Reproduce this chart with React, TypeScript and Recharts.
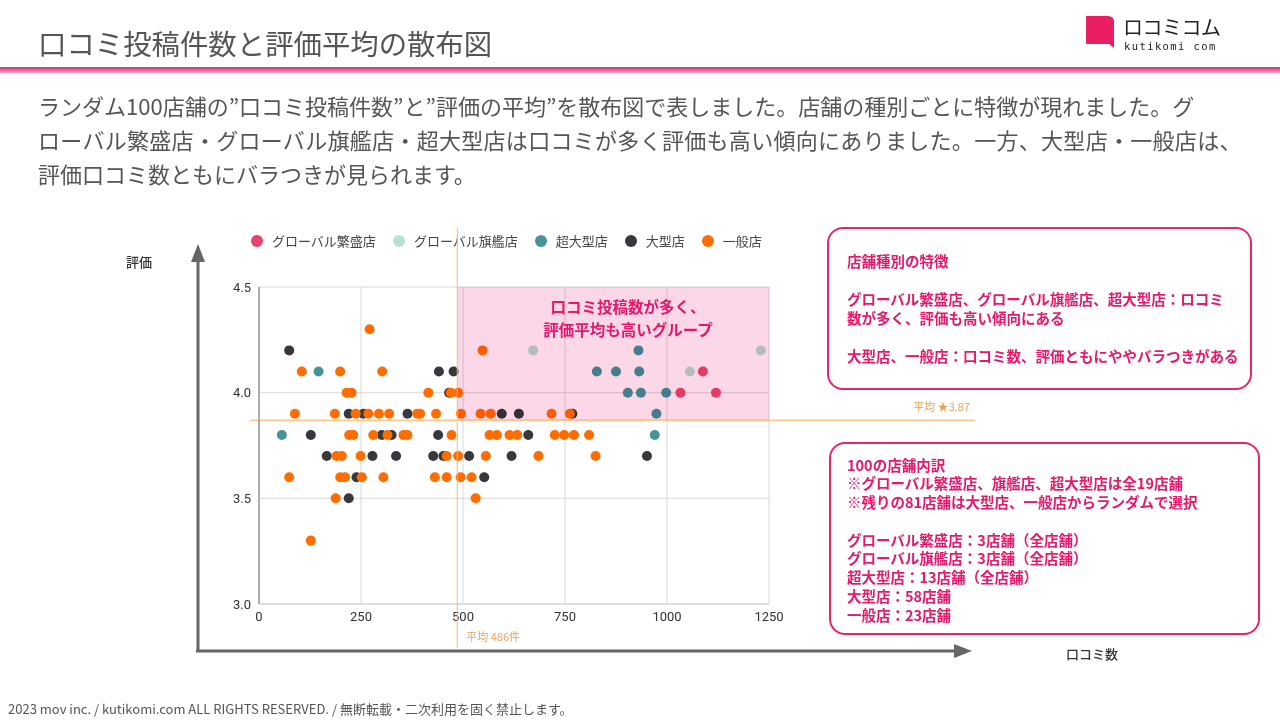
import { CartesianGrid, ReferenceArea, ReferenceLine, Scatter, ScatterChart, XAxis, YAxis } from "recharts";

// [口コミ数, 評価]
const globalHanjo: [number, number][] = [
  [1088, 4.1], [1033, 4.0], [1120, 4.0],
];
const globalKikan: [number, number][] = [
  [672, 4.2], [1230, 4.2], [1056, 4.1],
];
const chouOgata: [number, number][] = [
  [930, 4.2], [146, 4.1], [828, 4.1], [875, 4.1], [932, 4.1],
  [904, 4.0], [936, 4.0], [998, 4.0], [974, 3.9], [56, 3.8], [970, 3.8],
];
const ogata: [number, number][] = [
  [74, 4.2], [441, 4.1], [477, 4.1], [466, 4.0],
  [220, 3.9], [256, 3.9], [364, 3.9], [595, 3.9], [637, 3.9], [768, 3.9],
  [127, 3.8], [301, 3.8], [325, 3.8], [439, 3.8], [660, 3.8],
  [166, 3.7], [278, 3.7], [336, 3.7], [427, 3.7], [452, 3.7], [515, 3.7], [619, 3.7], [951, 3.7],
  [239, 3.6], [552, 3.6], [220, 3.5],
];
const ippan: [number, number][] = [
  [271, 4.3], [548, 4.2], [105, 4.1], [199, 4.1], [302, 4.1],
  [215, 4.0], [227, 4.0], [415, 4.0], [470, 4.0], [488, 4.0],
  [88, 3.9], [186, 3.9], [237, 3.9], [268, 3.9], [294, 3.9], [319, 3.9], [388, 3.9],
  [395, 3.9], [434, 3.9], [495, 3.9], [543, 3.9], [568, 3.9], [717, 3.9], [762, 3.9],
  [221, 3.8], [231, 3.8], [280, 3.8], [315, 3.8], [354, 3.8], [364, 3.8], [472, 3.8],
  [565, 3.8], [583, 3.8], [614, 3.8], [633, 3.8], [725, 3.8], [748, 3.8], [772, 3.8], [809, 3.8],
  [190, 3.7], [203, 3.7], [249, 3.7], [460, 3.7], [488, 3.7], [556, 3.7], [685, 3.7], [825, 3.7],
  [74, 3.6], [199, 3.6], [211, 3.6], [252, 3.6], [305, 3.6], [431, 3.6], [460, 3.6], [494, 3.6], [521, 3.6],
  [188, 3.5], [531, 3.5], [127, 3.3],
];

const xTicks = [0, 250, 500, 750, 1000, 1250];
const yTicks = [3.0, 3.5, 4.0, 4.5];
const meanCount = 486;
const meanRating = 3.87;

const series = [
  { name: "グローバル繁盛店", color: "#e8436c", points: globalHanjo },
  { name: "グローバル旗艦店", color: "#b7e2cf", points: globalKikan },
  { name: "超大型店", color: "#48939a", points: chouOgata },
  { name: "大型店", color: "#36383c", points: ogata },
  { name: "一般店", color: "#ff6d01", points: ippan },
];

const PINK = "#e5196c";
const FONT = "'Noto Sans CJK JP', 'Noto Sans', sans-serif";
const CHART_W = 800;
const CHART_H = 450;

const dot = (color: string) => (p: any) => <circle cx={p.cx} cy={p.cy} r={5} fill={color} />;
const noDot = () => <g />;
const allPoints = series.flatMap((s) => s.points.map(([x, y]) => ({ x, y })));

function HLine(p: any) {
  const { x1, y1, x2 } = p;
  return (
    <g>
      <line x1={x1 - 9} y1={y1} x2={x2 + 206} y2={y1} stroke="#fcc98c" strokeWidth={1.5} />
      <text x={x2 + 201} y={y1 - 9} textAnchor="end" fontSize={11} fill="#eba456" fontFamily={FONT}>
        平均 ★{meanRating}
      </text>
    </g>
  );
}

function VLine(p: any) {
  const { x1, y1, y2 } = p;
  const top = Math.min(y1, y2);
  const bottom = Math.max(y1, y2);
  return (
    <g>
      <line x1={x1} y1={top - 59} x2={x1} y2={bottom + 44} stroke="#f8b872" strokeWidth={1} />
      <text x={x1 + 9} y={bottom + 37} fontSize={11} fill="#eba456" fontFamily={FONT}>
        平均 {meanCount}件
      </text>
    </g>
  );
}

function PinkArea(p: any) {
  return <rect x={p.x} y={p.y} width={p.width} height={p.height} fill="#fbd7e8" />;
}

const tickStyle = { fill: "#333", fontSize: 13, fontFamily: "Roboto, sans-serif" };

// an overlay chart sharing the main chart's scales, for layers drawn above the points
function Overlay({ children, blend }: { children: any; blend?: boolean }) {
  return (
    <div
      style={{
        position: "absolute",
        left: 190,
        top: 220,
        width: CHART_W,
        height: CHART_H,
        mixBlendMode: blend ? "multiply" : "normal",
        pointerEvents: "none",
      }}
    >
      <ScatterChart width={CHART_W} height={CHART_H} margin={{ top: 67, right: 221, bottom: 36, left: 0 }}>
        <XAxis type="number" dataKey="x" domain={[0, 1250]} ticks={xTicks} height={30} tick={false} axisLine={false} tickLine={false} />
        <YAxis type="number" dataKey="y" domain={[3, 4.5]} ticks={yTicks} width={69} tick={false} axisLine={false} tickLine={false} />
        <Scatter data={allPoints} shape={noDot} isAnimationActive={false} />
        {children}
      </ScatterChart>
    </div>
  );
}

export default function App() {
  return (
    <div
      style={{
        position: "absolute",
        left: 0,
        top: 0,
        width: 1280,
        height: 720,
        background: "#fff",
        fontFamily: FONT,
        overflow: "hidden",
      }}
    >
      {/* header */}
      <div style={{ position: "absolute", left: 38, top: 23, fontSize: 28.4, lineHeight: "40px", color: "#555" }}>
        口コミ投稿件数と評価平均の散布図
      </div>
      <div
        style={{
          position: "absolute",
          left: 0,
          top: 67,
          width: 1280,
          height: 6,
          background: "linear-gradient(to bottom, #e3236b, #f7a9c6)",
        }}
      />
      <svg style={{ position: "absolute", left: 1084, top: 14 }} width={32} height={36}>
        <path d="M3 2 H24 Q30 2 30 8 V34 L25 30 H3 Q2 30 2 29 V3 Q2 2 3 2 Z" fill="#e91e63" />
      </svg>
      <div
        style={{
          position: "absolute",
          left: 1123,
          top: 14,
          fontSize: 20,
          lineHeight: "26px",
          color: "#222",
          letterSpacing: -0.5,
        }}
      >
        ロコミコム
      </div>
      <div
        style={{
          position: "absolute",
          left: 1124,
          top: 40,
          fontSize: 10.5,
          lineHeight: "13px",
          color: "#222",
          letterSpacing: 1.4,
          fontFamily: "'DejaVu Sans Mono', monospace",
        }}
      >
        kutikomi com
      </div>

      {/* description */}
      <div
        style={{
          position: "absolute",
          left: 38,
          top: 88,
          fontSize: 22,
          lineHeight: "34px",
          color: "#555",
          whiteSpace: "nowrap",
        }}
      >
        ランダム100店舗の”口コミ投稿件数”と”評価の平均”を散布図で表しました。店舗の種別ごとに特徴が現れました。グ
        <br />
        <span style={{ letterSpacing: 0.3 }}>
          ローバル繁盛店・グローバル旗艦店・超大型店は口コミが多く評価も高い傾向にありました。一方、大型店・一般店は、
        </span>
        <br />
        評価口コミ数ともにバラつきが見られます。
      </div>

      {/* legend */}
      <div style={{ position: "absolute", left: 251, top: 232, display: "flex", fontSize: 13, color: "#444" }}>
        {series.map((s) => (
          <div key={s.name} style={{ display: "flex", alignItems: "center", marginRight: 17, lineHeight: "18px" }}>
            <span
              style={{ width: 12, height: 12, borderRadius: 6, background: s.color, marginRight: 9, display: "inline-block" }}
            />
            {s.name}
          </div>
        ))}
      </div>

      {/* big axis arrows */}
      <svg style={{ position: "absolute", left: 0, top: 0 }} width={1280} height={720}>
        <line x1={198} y1={652} x2={198} y2={258} stroke="#666" strokeWidth={3} />
        <polygon points="198,244 191,262 205,262" fill="#666" />
        <line x1={196} y1={651} x2={957} y2={651} stroke="#666" strokeWidth={3} />
        <polygon points="972,651 954,644 954,658" fill="#666" />
      </svg>
      <div style={{ position: "absolute", left: 126, top: 252, fontSize: 13, color: "#333", fontWeight: 500 }}>評価</div>
      <div style={{ position: "absolute", left: 1066, top: 644, fontSize: 13, color: "#333", fontWeight: 500 }}>
        口コミ数
      </div>

      {/* chart */}
      <div style={{ position: "absolute", left: 190, top: 220, width: CHART_W, height: CHART_H }}>
        <ScatterChart width={CHART_W} height={CHART_H} margin={{ top: 67, right: 221, bottom: 36, left: 0 }}>
          <CartesianGrid stroke="#d9d9d9" />
          <XAxis
            type="number"
            dataKey="x"
            domain={[0, 1250]}
            ticks={xTicks}
            height={30}
            tickLine={false}
            axisLine={{ stroke: "#d0d0d0" }}
            tick={tickStyle}
          />
          <YAxis
            type="number"
            dataKey="y"
            domain={[3, 4.5]}
            ticks={yTicks}
            width={69}
            tickLine={false}
            axisLine={{ stroke: "#999", strokeWidth: 1.5 }}
            tickFormatter={(v: number) => v.toFixed(1)}
            tick={tickStyle}
          />
          {series.map((s) => (
            <Scatter
              key={s.name}
              name={s.name}
              data={s.points.map(([x, y]) => ({ x, y }))}
              fill={s.color}
              shape={dot(s.color)}
              isAnimationActive={false}
            />
          ))}
          <ReferenceLine y={meanRating} shape={HLine} />
        </ScatterChart>
      </div>

      {/* pink highlight, multiplied over the points */}
      <Overlay blend>
        <ReferenceArea x1={meanCount} x2={1250} y1={meanRating} y2={4.5} shape={PinkArea} />
      </Overlay>

      {/* mean count line */}
      <Overlay>
        <ReferenceLine x={meanCount} shape={VLine} />
      </Overlay>

      {/* annotation in pink area */}
      <div
        style={{
          position: "absolute",
          left: 478,
          top: 295,
          width: 300,
          textAlign: "center",
          fontSize: 15.5,
          lineHeight: "23px",
          fontWeight: 700,
          color: PINK,
        }}
      >
        口コミ投稿数が多く、
        <br />
        評価平均も高いグループ
      </div>

      {/* info boxes */}
      <div
        style={{
          position: "absolute",
          left: 827,
          top: 227,
          width: 421,
          height: 159,
          border: "2px solid #e8246a",
          borderRadius: 16,
        }}
      />
      <div
        style={{
          position: "absolute",
          left: 847,
          top: 251,
          fontSize: 14.5,
          lineHeight: "19px",
          fontWeight: 700,
          color: PINK,
          whiteSpace: "nowrap",
        }}
      >
        店舗種別の特徴
        <br />
        <br />
        グローバル繁盛店、グローバル旗艦店、超大型店：ロコミ
        <br />
        数が多く、評価も高い傾向にある
        <br />
        <br />
        大型店、一般店：口コミ数、評価ともにややバラつきがある
      </div>
      <div
        style={{
          position: "absolute",
          left: 829,
          top: 442,
          width: 427,
          height: 189,
          border: "2px solid #e8246a",
          borderRadius: 16,
        }}
      />
      <div
        style={{
          position: "absolute",
          left: 847,
          top: 455.5,
          fontSize: 14.5,
          lineHeight: "18.8px",
          fontWeight: 700,
          color: PINK,
          whiteSpace: "nowrap",
        }}
      >
        100の店舗内訳
        <br />
        ※グローバル繁盛店、旗艦店、超大型店は全19店舗
        <br />
        ※残りの81店舗は大型店、一般店からランダムで選択
        <br />
        <br />
        グローバル繁盛店：3店舗（全店舗）
        <br />
        グローバル旗艦店：3店舗（全店舗）
        <br />
        超大型店：13店舗（全店舗）
        <br />
        大型店：58店舗
        <br />
        一般店：23店舗
      </div>

      {/* footer */}
      <div style={{ position: "absolute", left: 8, top: 700, fontSize: 13, lineHeight: "18px", color: "#555" }}>
        2023 mov inc. / kutikomi.com ALL RIGHTS RESERVED. / 無断転載・二次利用を固く禁止します。
      </div>
    </div>
  );
}
